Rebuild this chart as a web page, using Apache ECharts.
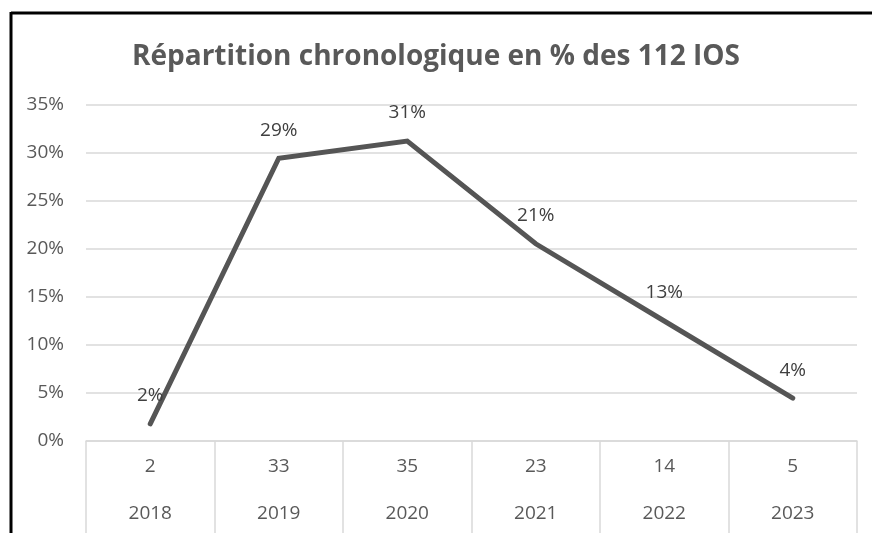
<!DOCTYPE html>
<html>
<head>
<meta charset="utf-8">
<script src="https://cdn.jsdelivr.net/npm/echarts@6/dist/echarts.min.js"></script>
<style>
html,body{margin:0;padding:0;background:#fff;overflow:hidden;}
#c{width:872px;height:533px;}
</style>
</head>
<body>
<div id="c"></div>
<script>
const titleText = 'Répartition chronologique en % des 112 IOS';
const years = ['2018', '2019', '2020', '2021', '2022', '2023'];
const counts = [2, 33, 35, 23, 14, 5];
const percents = [1.79, 29.46, 31.25, 20.54, 12.5, 4.46];
const yTicks = [0, 5, 10, 15, 20, 25, 30, 35];

const FONT = '"Open Sans", sans-serif';
const chart = echarts.init(document.getElementById('c'), null, {renderer: 'canvas', width: 872, height: 533});
chart.setOption({
  animation: false,
  backgroundColor: '#ffffff',
  title: {
    text: titleText,
    left: 'center',
    top: 38,
    textStyle: {fontFamily: FONT, fontSize: 28, fontWeight: 'bold', color: '#595959'}
  },
  graphic: [
    {type: 'line', shape: {x1: 11, y1: 13, x2: 872, y2: 13}, style: {stroke: '#000', lineWidth: 3}},
    {type: 'line', shape: {x1: 11, y1: 12, x2: 11, y2: 533}, style: {stroke: '#000', lineWidth: 3}}
  ],
  grid: {left: 86, right: 15, top: 105, height: 336, outerBoundsMode: 'none', containLabel: false},
  xAxis: {
    type: 'category',
    data: years,
    boundaryGap: true,
    axisLine: {show: true, lineStyle: {color: '#d9d9d9', width: 1.5}},
    axisTick: {show: true, alignWithLabel: false, interval: 0, length: 92, lineStyle: {color: '#d9d9d9', width: 1.5}},
    axisLabel: {
      interval: 0,
      margin: 2,
      fontFamily: FONT,
      fontSize: 19,
      color: '#595959',
      lineHeight: 47,
      formatter: function (v, i) { return counts[i] + '\n' + v; }
    },
    splitLine: {show: false}
  },
  yAxis: {
    type: 'value',
    min: yTicks[0],
    max: yTicks[yTicks.length - 1],
    interval: 5,
    axisLine: {show: false},
    axisTick: {show: false},
    axisLabel: {fontFamily: FONT, fontSize: 19, color: '#595959', margin: 22, formatter: '{value}%'},
    splitLine: {lineStyle: {color: '#d9d9d9', width: 1.5}}
  },
  series: [{
    type: 'line',
    data: percents,
    symbol: 'circle',
    symbolSize: 1,
    showSymbol: true,
    itemStyle: {color: 'rgba(0,0,0,0)'},
    lineStyle: {color: '#555555', width: 5, cap: 'round', join: 'miter'},
    label: {
      show: true,
      position: 'top',
      distance: 18,
      fontFamily: FONT,
      fontSize: 19,
      color: '#404040',
      formatter: function (p) { return Math.round(p.value) + '%'; }
    }
  }]
});
</script>
</body>
</html>
